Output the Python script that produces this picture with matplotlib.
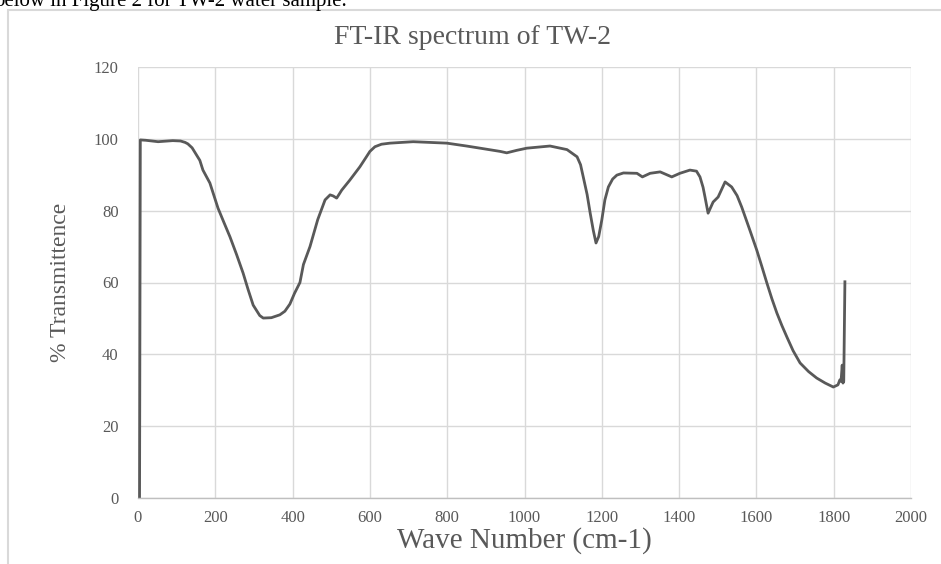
import matplotlib
matplotlib.use("Agg")
from matplotlib import pyplot as plt
from matplotlib.patches import Rectangle

# FT-IR spectrum of TW-2
wave_number = [4, 6, 20, 52, 90, 110, 122, 129, 140, 160, 168, 186, 207, 222,
               238, 255, 272, 285, 298, 315, 324, 345, 367, 380, 393, 405, 419,
               428, 445, 465, 484, 497, 505, 514, 520, 527, 548, 574, 591, 600,
               613, 630, 652, 712, 799, 850, 885, 937, 954, 980, 1006, 1066,
               1110, 1136, 1145, 1152, 1162, 1170, 1178, 1185, 1192, 1200, 1208,
               1217, 1228, 1239, 1256, 1291, 1305, 1325, 1351, 1381, 1402, 1428,
               1445, 1454, 1462, 1467, 1475, 1488, 1501, 1519, 1536, 1550, 1562,
               1583, 1601, 1614, 1627, 1640, 1653, 1666, 1679, 1695, 1713, 1735,
               1756, 1778, 1799, 1811, 1816, 1819, 1822, 1824, 1826, 1829]
transmittance = [0, 99.7, 99.6, 99.2, 99.5, 99.4, 99.0, 98.6, 97.5, 94.0, 91.3,
                 87.7, 80.7, 76.8, 72.7, 67.8, 62.6, 58.0, 53.7, 50.8, 50.1, 50.2,
                 51.0, 52.0, 54.0, 57.0, 60.0, 65.0, 70.0, 77.5, 83.0, 84.4, 84.1,
                 83.5, 84.5, 85.7, 88.5, 92.2, 95.0, 96.5, 97.8, 98.5, 98.8, 99.2,
                 98.8, 98.0, 97.4, 96.5, 96.1, 96.8, 97.4, 98.0, 97.0, 95.0, 92.8,
                 89.4, 84.5, 79.3, 74.5, 71.0, 72.8, 77.4, 83.0, 86.6, 88.8, 89.9,
                 90.5, 90.4, 89.4, 90.4, 90.8, 89.4, 90.4, 91.3, 91.0, 89.4, 86.5,
                 83.8, 79.3, 82.4, 83.8, 88.0, 86.6, 84.2, 81.0, 74.6, 69.0, 64.5,
                 59.9, 55.5, 51.5, 48.0, 44.8, 41.0, 37.6, 35.2, 33.4, 32.0, 30.9,
                 31.5, 32.9, 32.5, 37.0, 32.0, 32.5, 60.2]

x_ticks = [0, 200, 400, 600, 800, 1000, 1200, 1400, 1600, 1800, 2000]
y_ticks = [0, 20, 40, 60, 80, 100, 120]

plt.rcParams['font.family'] = ['Liberation Serif', 'DejaVu Serif']

fig = plt.figure(figsize=(9.41, 5.64), dpi=100)

# cropped sentence from the surrounding document
fig.text(-0.006, 1 - 6 / 564, "below in Figure 2 for TW-2 water sample.",
         fontsize=15, color='black', va='baseline', ha='left')

# chart frame
fig.patches.append(Rectangle((8 / 941, -0.05), 1.1, 1 - 10 / 564 + 0.05,
                             transform=fig.transFigure, fill=False,
                             edgecolor='#d9d9d9', linewidth=1.5))

ax = fig.add_axes([138 / 941, 1 - 498 / 564, (911 - 138) / 941, (498 - 67) / 564])
ax.plot(wave_number, transmittance, color='#595959', linewidth=2.0,
        solid_joinstyle='round')

ax.set_xlim(0, 2000)
ax.set_ylim(0, 120)
ax.set_xticks(x_ticks)
ax.set_yticks(y_ticks)
ax.grid(True, color='#d9d9d9', linewidth=1.0)
ax.set_axisbelow(True)
for s in ['top', 'right', 'left']:
    ax.spines[s].set_visible(False)
ax.spines['bottom'].set_color('#bfbfbf')
ax.spines['bottom'].set_linewidth(1.0)
ax.tick_params(length=0, labelsize=12, labelcolor='#595959')
ax.tick_params(axis='y', pad=14)
ax.tick_params(axis='x', pad=9)

fig.text(473 / 941, 1 - 38 / 564, "FT-IR spectrum of TW-2", fontsize=20,
         color='#595959', ha='center', va='center')
fig.text(524 / 941, 1 - 541 / 564, "Wave Number (cm-1)", fontsize=21,
         color='#595959', ha='center', va='center')
fig.text(60 / 941, 1 - 282 / 564, "% Transmittence", fontsize=17,
         color='#595959', ha='center', va='center', rotation=90)

fig.savefig('out.png', dpi=100)
